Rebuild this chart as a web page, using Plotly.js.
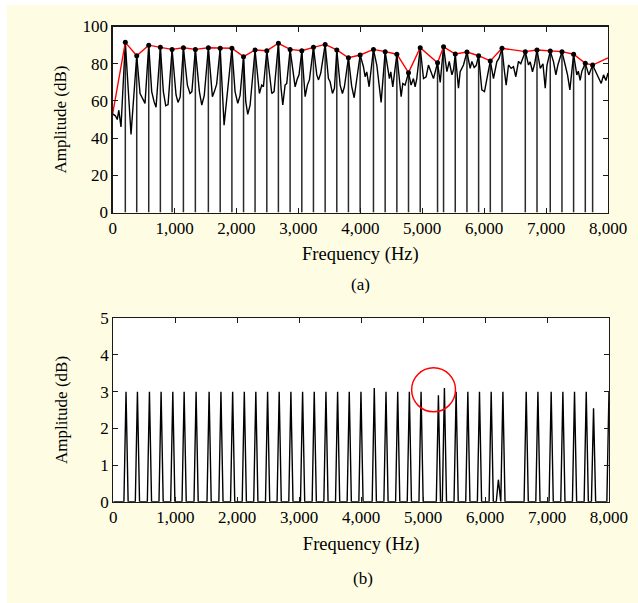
<!DOCTYPE html>
<html>
<head>
<meta charset="utf-8">
<script src="https://cdn.plot.ly/plotly-3.0.1.min.js"></script>
<style>
html,body{margin:0;padding:0;background:#ffffff;}
#chart{position:absolute;left:7px;top:5px;width:631px;height:598px;}
</style>
</head>
<body>
<div id="chart"></div>
<script>
// ---------- Panel (a): spectrum ----------
const specFreq = [0,45,75,100,135,205,297,389,443,486,523,583,631,669,701,771,819,858,895,960,1024,1056,1090,1143,1207,1250,1280,1336,1401,1440,1480,1546,1611,1643,1680,1737,1800,1926,1977,2021,2058,2114,2150,2182,2220,2300,2344,2370,2408,2435,2490,2543,2570,2607,2677,2720,2748,2785,2812,2866,2920,2947,2984,3010,3055,3109,3145,3178,3243,3297,3325,3361,3432,3485,3512,3550,3582,3620,3674,3711,3743,3808,3860,3900,3997,4050,4077,4104,4142,4212,4266,4309,4336,4401,4438,4470,4492,4524,4590,4632,4659,4686,4723,4778,4820,4858,4885,4912,4967,5020,5063,5100,5127,5181,5247,5290,5344,5398,5436,5479,5506,5533,5585,5612,5666,5722,5774,5801,5839,5870,5910,5962,6005,6042,6099,6150,6177,6204,6240,6288,6328,6355,6393,6436,6473,6511,6554,6591,6624,6664,6716,6743,6780,6815,6853,6906,6949,6986,7013,7067,7120,7158,7190,7256,7308,7346,7384,7444,7496,7520,7550,7578,7633,7690,7751,7804,7847,7890,7928,7966,8000];
const specDb = [53,52,50,55,46,91.5,42,84.3,64,61.4,58.7,90,65,59.6,56.6,88.8,65,57.4,58,87.7,63.2,59.2,62,88.6,68.5,64,65,87.7,65,57.8,63,88.6,62.3,65,69,88.3,47,88.3,65,58.7,63,83.8,59.6,52.8,57.7,87.4,70.3,64,68.5,67.6,87,72,64,65,91,66.8,57.8,68.5,69.4,87.7,74,67.6,72,74,87,62.3,68.5,71.3,88.8,74,71.3,75,90.4,72,70.3,64,66.8,87.4,68.5,64,67.6,83.2,68,61.7,84.7,78.4,73,75.6,67.6,87.7,79.3,68.5,59.2,86.5,79.3,72,75.6,67.6,85.1,69.4,62.3,69.4,68.5,75.2,68.5,72,67.6,72,88.6,72,73,79.3,76.5,72,80.5,70,89.1,75.7,81.2,74,77,85.2,66.8,75.7,79.3,86.3,77.5,81.2,78,79,84.3,65.9,65,72,81.5,72,77.5,81,83,88.3,75.7,68.5,79.3,77.5,78.4,73,81.2,80,83,86.5,79.3,81,75.7,80,87.4,77.5,80,66.8,79,86.8,81,74,79.3,86.5,79.3,74,65.9,85.1,74,76,71,76,80.2,74,79.3,75.7,72,69.4,74,71,75];

// detected harmonic peaks (red envelope)
const peakFreq = [205,389,583,771,960,1143,1336,1546,1737,1926,2114,2300,2490,2677,2866,3055,3243,3432,3620,3808,3997,4212,4401,4590,4778,4967,5247,5344,5533,5722,5910,6099,6288,6664,6853,7067,7256,7444,7633,7751];
const peakDb = [91.5,84.3,90,88.8,87.7,88.6,87.7,88.6,88.3,88.3,83.8,87.4,87,91,87.7,87,88.8,90.4,87.4,83.2,84.7,87.7,86.5,85.1,75.2,88.6,80.5,89.1,85.2,86.3,84.3,81.5,88.3,86.5,87.4,86.8,86.5,85.1,80.2,79.3];
const envEdgeFreq = [0, 8000];
const envEdgeDb = [53, 83.2];

// ---------- Panel (b): peak indicator ----------
const markFreq = [205,389,583,771,960,1143,1336,1546,1737,1926,2114,2300,2490,2677,2866,3055,3243,3432,3620,3808,3997,4212,4401,4590,4778,4967,5247,5344,5533,5722,5910,6099,6215,6288,6664,6853,7067,7256,7444,7633,7751,8000];
const markAmp = [3,3,3,3,3,3,3,3,3,3,3,3,3,3,3,3,3,3,3,3,3,3.1,3,3,3,3,2.9,3.1,3,3,3,3,0.6,3,3,3,3,3,3,3,2.55,3];

const xTicks = [0,1000,2000,3000,4000,5000,6000,7000,8000];
const yTicksA = [0,20,40,60,80,100];
const yTicksB = [0,1,2,3,4,5];

// ---------- traces ----------
const stemX = [], stemY = [];
peakFreq.forEach((f,i)=>{ stemX.push(f,f,null); stemY.push(0,peakDb[i],null); });

const envX = [envEdgeFreq[0], ...peakFreq, envEdgeFreq[1]];
const envY = [envEdgeDb[0], ...peakDb, envEdgeDb[1]];

const hw = 34; // half base width of an indicator spike (Hz)
const bX = [0], bY = [0];
markFreq.forEach((f,i)=>{ bX.push(f-hw, f, f+hw); bY.push(0, markAmp[i], 0); });

const FONT = 'Liberation Serif, Times New Roman, serif';

const traces = [
  {x: stemX, y: stemY, mode:'lines', line:{color:'#2a2a2a', width:1.5}, xaxis:'x', yaxis:'y', hoverinfo:'skip'},
  {x: specFreq, y: specDb, mode:'lines', line:{color:'#000000', width:1.4}, xaxis:'x', yaxis:'y'},
  {x: envX, y: envY, mode:'lines', line:{color:'#ff0000', width:1.4}, xaxis:'x', yaxis:'y'},
  {x: peakFreq, y: peakDb, mode:'markers', marker:{color:'#000000', size:5}, xaxis:'x', yaxis:'y'},
  {x: bX, y: bY, mode:'lines', line:{color:'#000000', width:1.4}, xaxis:'x2', yaxis:'y2'}
];

const axBase = {
  showline:true, linecolor:'#1a1a1a', linewidth:1.2, mirror:'ticks',
  ticks:'inside', ticklen:5, tickcolor:'#1a1a1a', tickwidth:1,
  showgrid:false, zeroline:false,
  tickfont:{family:FONT, size:17, color:'#000'}
};

const layout = {
  width:631, height:598,
  paper_bgcolor:'#fefde4', plot_bgcolor:'#ffffff',
  margin:{l:0,r:0,t:0,b:0},
  showlegend:false,
  font:{family:FONT, size:17, color:'#000'},
  xaxis: Object.assign({}, axBase, {domain:[0.1674,0.9525], range:[0,8000], tickvals:xTicks, tickformat:',d', anchor:'y',
    title:{text:'Frequency (Hz)', font:{family:FONT,size:18.5}, standoff:10}}),
  yaxis: Object.assign({}, axBase, {domain:[0.6530,0.9640], range:[0,100], tickvals:yTicksA, anchor:'x',
    title:{text:'Amplitude (dB)', font:{family:FONT,size:17}, standoff:11}}),
  xaxis2: Object.assign({}, axBase, {domain:[0.1685,0.9540], range:[0,8000], tickvals:xTicks, tickformat:',d', anchor:'y2',
    title:{text:'Frequency (Hz)', font:{family:FONT,size:18.5}, standoff:10}}),
  yaxis2: Object.assign({}, axBase, {domain:[0.1694,0.4761], range:[0,5], tickvals:yTicksB, anchor:'x2',
    title:{text:'Amplitude (dB)', font:{family:FONT,size:17}, standoff:28}}),
  annotations:[
    {text:'(a)', xref:'paper', yref:'paper', x:0.561, y:0.5334, xanchor:'center', yanchor:'middle', showarrow:false, font:{family:FONT,size:17}},
    {text:'(b)', xref:'paper', yref:'paper', x:0.564, y:0.0418, xanchor:'center', yanchor:'middle', showarrow:false, font:{family:FONT,size:17}}
  ],
  shapes:[
    {type:'circle', xref:'x2', yref:'y2', x0:4815, x1:5523, y0:2.45, y1:3.65, line:{color:'#ff0000', width:1.5}}
  ]
};

Plotly.newPlot('chart', traces, layout, {staticPlot:true, displayModeBar:false});
</script>
</body>
</html>
